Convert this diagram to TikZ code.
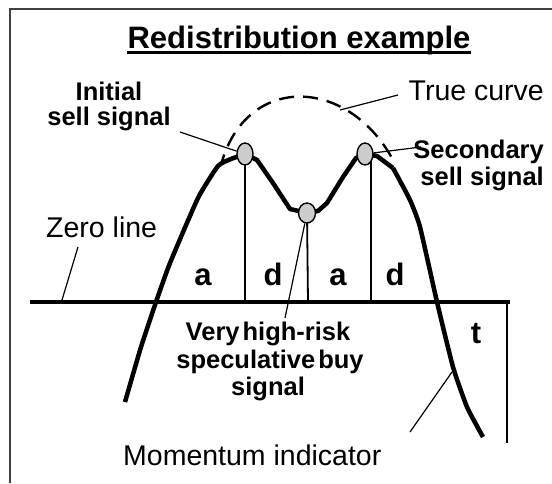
\documentclass[tikz,border=0pt]{standalone}
\usepackage{fontspec}
\setmainfont{Liberation Sans}
\usetikzlibrary{shapes.geometric}
\begin{document}
\begin{tikzpicture}[x=1pt,y=-1pt,
  reg/.style={font=\fontsize{28.5}{30}\selectfont, inner sep=0pt},
  bld/.style={font=\fontsize{25.5}{27}\selectfont\bfseries, inner sep=0pt},
  seg/.style={font=\fontsize{31}{31}\selectfont\bfseries, inner sep=0pt, anchor=base},
  ttl/.style={font=\fontsize{31}{33}\selectfont\bfseries, inner sep=0pt, anchor=base},
  momentum/.style={line width=4.5pt, line join=round},
  zeroline/.style={line width=4.2pt},
  vline/.style={line width=1.8pt},
  leader/.style={line width=1.2pt},
  truecurve/.style={line width=2.4pt, dash pattern=on 15pt off 9pt, dash phase=4pt},
  sig/.style={ellipse, draw, fill=black!20, line width=1.4pt, minimum width=16pt, minimum height=22pt, inner sep=0pt},
]
\useasboundingbox (0,0) rectangle (552,483);
% frame
\draw[line width=2pt, black!75] (10,483) -- (10,9) -- (552,9);

% title
\node[ttl] (title) at (299,48) {Redistribution example};
\draw[line width=2.4pt] ([yshift=-4.5pt]title.base west) -- ([yshift=-4.5pt]title.base east);

% key points
\coordinate (p1) at (245,154);
\coordinate (p2) at (307,213);
\coordinate (p3) at (365,154);
\coordinate (zl) at (30,302);
\coordinate (zr) at (510,302);
\coordinate (z1) at (245,302);
\coordinate (z2) at (308,302);
\coordinate (z3) at (371,302);
\coordinate (tb) at (507,302);
\coordinate (tb2) at (507,443);

% true curve (dashed)
\draw[truecurve] (221,165) .. controls (245,75) and (345,75) .. (392,158);

% verticals and zero line
\draw[vline] (p1) -- (z1);
\draw[vline] (p2) -- (z2);
\draw[vline] (z3 |- p3) -- (z3);
\draw[vline] (tb) -- (tb2);
\draw[zeroline] (zl) -- (zr);

% momentum indicator curve
\draw[momentum] plot[smooth, tension=0.3] coordinates {(125,402) (141,347) (156,302) (170,263) (198,198) (218,166) (231,159) (245,154)};
\draw[momentum] (245,154) -- (257,160) -- (273,183) -- (290,209) -- (307,213) -- (318,211) -- (327,203) -- (343,177) -- (356,158) -- (365,154);
\draw[momentum] (365,154) -- (377,156) -- (393,168);
\draw[momentum] plot[smooth, tension=0.3] coordinates {(393,168) (410,200) (420,227) (437,302) (453,367) (467,407) (483,437)};

% signal points
\node[sig] (s1) at (p1) {};
\node[sig, minimum height=20pt, minimum width=17pt] (s2) at (p2) {};
\node[sig] (s3) at (p3) {};

% labels
\node[bld, anchor=base] (init1) at (109,100) {Initial};
\node[bld, anchor=base] (init2) at (109,125) {sell signal};
\node[reg, anchor=base east] (true) at (544,100) {True curve};
\node[bld, anchor=base east] (sec1) at (544,158) {Secondary};
\node[bld, anchor=base east] (sec2) at (544,185) {sell signal};
\node[reg, anchor=base west] (zero) at (46,237) {Zero line};
\node[bld, anchor=base] (vh1) at (268,340) {Very\hspace{3pt}high-risk};
\node[bld, anchor=base] (vh2) at (270,368) {speculative\hspace{3pt}buy};
\node[bld, anchor=base] (vh3) at (268,395) {signal};
\node[reg, anchor=base west] (mom) at (123,465) {Momentum indicator};
\node[seg] (la1) at (203,285) {a};
\node[seg] (ld1) at (273,285) {d};
\node[seg] (la2) at (338,285) {a};
\node[seg] (ld2) at (395,285) {d};
\node[seg] (lt) at (476,343) {t};

% leaders
\coordinate (cInit) at (180,132);
\coordinate (cTrueA) at (398,95);
\coordinate (cTrueB) at (340,110);
\coordinate (cSec) at (421,147);
\coordinate (cZeroA) at (78,247);
\coordinate (cZeroB) at (62,300);
\coordinate (cVh) at (285,318);
\coordinate (cMomA) at (410,432);
\coordinate (cMomB) at (452,372);
\draw[leader] (cInit) -- (s1);
\draw[leader] (cTrueA) -- (cTrueB);
\draw[leader] (cSec) -- (s3);
\draw[leader] (cZeroA) -- (cZeroB);
\draw[leader] (cVh) -- (s2);
\draw[leader] (cMomA) -- (cMomB);
\end{tikzpicture}
\end{document}
